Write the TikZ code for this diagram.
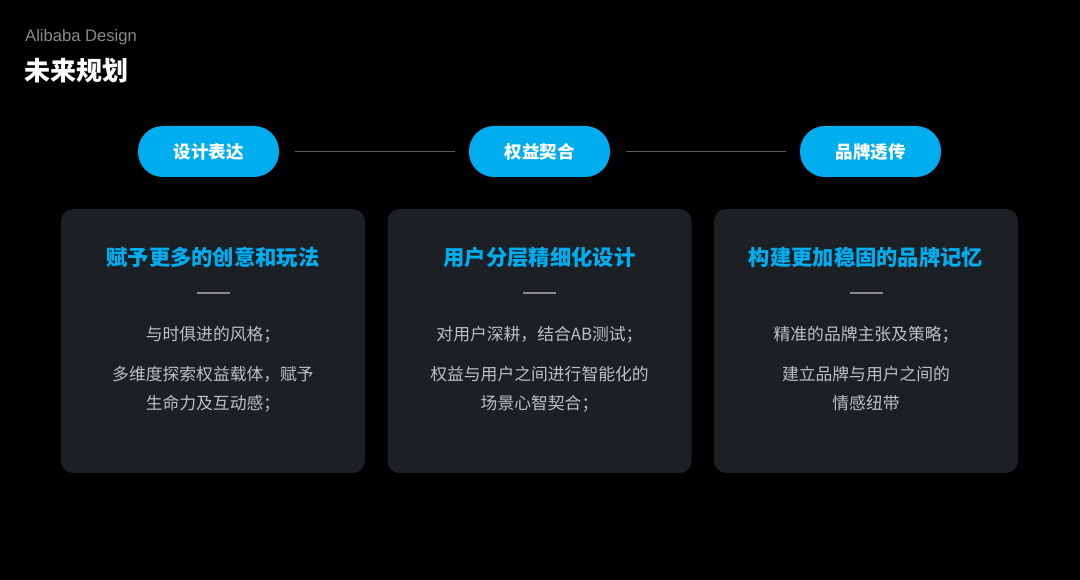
\documentclass[tikz,border=0pt]{standalone}
\usepackage{fontspec}
\setmainfont{Noto Sans CJK SC}
\newfontfamily\latinsans{Liberation Sans}
\definecolor{cyanb}{HTML}{00AEEF}
\definecolor{cardbg}{HTML}{1C1F24}
\definecolor{bodyt}{HTML}{BDBFC2}
\definecolor{hdr}{HTML}{8A8A8A}
\definecolor{lnc}{HTML}{5A5A5A}
\tikzset{
  pill/.style={fill=cyanb, rounded corners=25pt, minimum width=141pt, minimum height=51pt, text=white, font=\fontsize{17.5}{20}\selectfont\bfseries, inner sep=0pt},
  card/.style={fill=cardbg, rounded corners=12pt, minimum width=304pt, minimum height=264pt, inner sep=0pt},
  ctitle/.style={text=cyanb, font=\fontsize{21.3}{24}\selectfont\bfseries, inner sep=0pt},
  cbody/.style={text=bodyt, font=\fontsize{16.8}{29.5}\selectfont, align=center, inner sep=0pt},
  dashbar/.style={draw=hdr, line width=2pt},
  conn/.style={draw=lnc, line width=1pt}
}
\begin{document}
\begin{tikzpicture}[x=1pt,y=-1pt]
\fill[black] (0,0) rectangle (1080,580);
\useasboundingbox (0,0) rectangle (1080,580);
\node[anchor=west, text=hdr, font=\latinsans\fontsize{16.6}{19}\selectfont, inner sep=0pt] (brand) at (25,37.5) {Alibaba Design};
\node[anchor=west, text=white, font=\fontsize{26}{30}\selectfont\bfseries, inner sep=0pt] (head) at (24,71) {未来规划};

\node[pill] (p1) at (208.5,151.5) {设计表达};
\node[pill] (p2) at (539.5,151.5) {权益契合};
\node[pill] (p3) at (870.5,151.5) {品牌透传};
\draw[conn] ([xshift=16pt]p1.east) -- ([xshift=-14pt]p2.west);
\draw[conn] ([xshift=16pt]p2.east) -- ([xshift=-14pt]p3.west);

\node[card] (c1) at (213,341) {};
\node[card] (c2) at (539.5,341) {};
\node[card] (c3) at (866,341) {};

\node[ctitle] (t1) at (213,257) {赋予更多的创意和玩法};
\node[ctitle] (t2) at (539.5,257) {用户分层精细化设计};
\node[ctitle] (t3) at (866,257) {构建更加稳固的品牌记忆};

\coordinate (d1a) at (196.5,293.5); \coordinate (d1b) at (229.5,293.5);
\coordinate (d2a) at (523,293.5); \coordinate (d2b) at (556,293.5);
\coordinate (d3a) at (849.5,293.5); \coordinate (d3b) at (882.5,293.5);
\draw[dashbar] (d1a) -- (d1b);
\draw[dashbar] (d2a) -- (d2b);
\draw[dashbar] (d3a) -- (d3b);

\node[cbody] (a1) at (213,335) {与时俱进的风格；};
\node[cbody, anchor=north] (b1) at (213,366) {多维度探索权益载体，赋予\\生命力及互动感；};
\node[cbody] (a2) at (539.5,335) {对用户深耕，结合AB测试；};
\node[cbody, anchor=north] (b2) at (539.5,366) {权益与用户之间进行智能化的\\场景心智契合；};
\node[cbody] (a3) at (866,335) {精准的品牌主张及策略；};
\node[cbody, anchor=north] (b3) at (866,366) {建立品牌与用户之间的\\情感纽带};
\end{tikzpicture}
\end{document}
